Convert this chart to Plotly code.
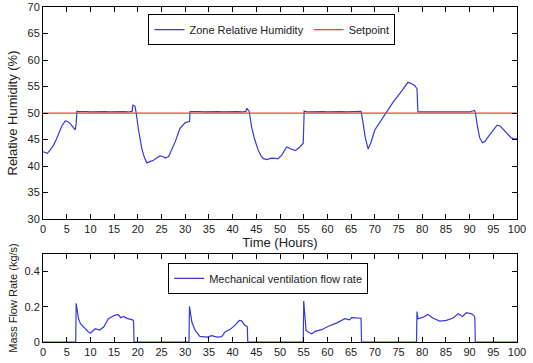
import plotly.graph_objects as go

# Zone relative humidity (%) vs time (hours)
rh_time = [0, 0.5, 0.9, 1.5, 2.2, 2.8, 3.3, 4.0, 4.7, 5.2, 5.75, 6.3, 6.8, 7.0, 7.15, 7.4,
           8, 9, 10, 11, 12, 13, 14, 15, 16, 17, 18, 18.8, 18.96, 19.4, 19.66, 20.15,
           20.85, 21.4, 21.9, 22.5, 23.3, 24.0, 24.7, 25.3, 25.8, 26.5, 27.2, 27.9, 28.9,
           29.5, 30.0, 30.9, 31.05, 31.3,
           32, 33, 34, 35, 36, 37, 38, 39, 40, 41, 42, 42.8, 43.0, 43.5, 44.0, 44.7, 45.4,
           46.0, 46.5, 47.2, 48.2, 49.6, 50.4, 51.4, 52.1, 53.2, 54.2, 54.9, 55.1, 55.3,
           56, 57, 58, 59, 60, 61, 62, 63, 64, 65, 66, 67.1, 67.55, 68.0, 68.6, 69.2, 70.0,
           71.2, 72.5, 73.9, 75.3, 76.2, 77.0, 77.6, 78.4, 78.9, 79.1, 79.3,
           80, 81, 82, 83, 84, 85, 86, 87, 88, 89, 90, 91.0, 91.2, 91.6, 92.1, 92.7, 93.2,
           93.9, 95.0, 95.8, 96.5, 97.2, 97.8, 98.8, 99.5, 100]
rh_value = [42.7, 42.5, 42.4, 43.0, 43.9, 45.0, 46.1, 47.6, 48.5, 48.4, 48.0, 47.3, 46.8, 48.0, 50.4, 50.25,
            50.2, 50.25, 50.2, 50.25, 50.2, 50.25, 50.2, 50.25, 50.2, 50.25, 50.2, 50.3, 51.5, 51.3, 50.0, 46.8,
            43.3, 41.6, 40.6, 40.8, 41.1, 41.5, 41.9, 41.8, 41.5, 41.8, 43.1, 44.6, 47.1,
            47.8, 48.2, 48.4, 50.3, 50.25,
            50.2, 50.25, 50.2, 50.25, 50.2, 50.25, 50.2, 50.25, 50.2, 50.25, 50.2, 50.3, 50.9, 50.3, 47.4, 44.9, 43.0,
            41.9, 41.4, 41.2, 41.5, 41.4, 42.1, 43.6, 43.3, 42.9, 43.6, 44.3, 50.4, 50.3,
            50.2, 50.25, 50.2, 50.25, 50.2, 50.25, 50.2, 50.25, 50.2, 50.25, 50.2, 50.3, 48.0, 45.3, 43.2, 44.5, 46.8,
            48.5, 50.1, 52.1, 53.7, 54.9, 55.8, 55.6, 55.2, 54.6, 50.2, 50.2,
            50.2, 50.25, 50.2, 50.25, 50.2, 50.25, 50.2, 50.25, 50.2, 50.25, 50.2, 50.5, 50.2, 47.8, 45.4, 44.4, 44.6,
            45.5, 46.9, 47.7, 47.5, 46.8, 46.1, 45.3, 45.1, 45.2]

setpoint_time = [0, 100]
setpoint_value = [50, 50]

# Mechanical ventilation mass flow rate (kg/s)
flow_time = [0, 6.9, 7.0, 7.2, 7.5, 7.9, 8.7, 9.6, 10.0, 11.0, 11.9, 12.8, 13.8, 15.2, 15.9, 16.4,
             17.0, 17.7, 18.9, 19.1, 19.2,
             30.8, 30.9, 31.1, 31.4, 32.1, 33.1, 34.6, 35.6, 36.7, 37.7, 38.4, 39.5, 40.5, 41.4,
             41.9, 42.6, 43.0, 43.1, 43.2,
             54.9, 55.0, 55.2, 55.5, 56.3, 56.7, 57.4, 58.8, 60.2, 61.9, 63.7, 64.7, 65.1, 66.9,
             67.1, 67.2,
             78.8, 78.9, 79.1, 80.2, 81.2, 82.3, 83.7, 85.1, 86.5, 87.6, 88.5, 89.3, 90.4, 90.9,
             91.1, 91.2, 100]
flow_value = [0, 0, 0.22, 0.18, 0.132, 0.104, 0.08, 0.057, 0.05, 0.075, 0.068, 0.085, 0.132, 0.153, 0.155, 0.138,
              0.145, 0.134, 0.126, 0.12, 0,
              0, 0.203, 0.16, 0.113, 0.066, 0.032, 0.028, 0.036, 0.028, 0.03, 0.057, 0.072, 0.094, 0.122,
              0.12, 0.094, 0.09, 0.085, 0,
              0, 0.232, 0.15, 0.066, 0.051, 0.047, 0.06, 0.07, 0.089, 0.107, 0.132, 0.126, 0.138, 0.138,
              0.135, 0,
              0, 0.173, 0.132, 0.141, 0.156, 0.135, 0.119, 0.123, 0.136, 0.160, 0.145, 0.166, 0.16, 0.15,
              0.14, 0, 0]

x_ticks = list(range(0, 101, 5))
rh_ticks = list(range(30, 71, 5))
flow_ticks = [0, 0.2, 0.4]
flow_tick_labels = ["0", "0.2", "0.4"]

BLUE = "#3838dc"
RED = "#ff3a3a"
FONT = "Liberation Sans, Arial, sans-serif"

fig = go.Figure()
fig.add_trace(go.Scatter(x=rh_time, y=rh_value, mode="lines", name="Zone Relative Humidity",
                         line=dict(color=BLUE, width=1.2), xaxis="x", yaxis="y", legend="legend"))
fig.add_trace(go.Scatter(x=setpoint_time, y=setpoint_value, mode="lines", name="Setpoint",
                         line=dict(color=RED, width=1.2), xaxis="x", yaxis="y", legend="legend"))
fig.add_trace(go.Scatter(x=flow_time, y=flow_value, mode="lines", name="Mechanical ventilation flow rate",
                         line=dict(color=BLUE, width=1.2), xaxis="x2", yaxis="y2", legend="legend2"))

axis_common = dict(showline=True, linecolor="black", linewidth=1, mirror="ticks", ticks="inside",
                   ticklen=5, tickcolor="black", showgrid=False, zeroline=False, automargin=False,
                   tickfont=dict(family=FONT, size=11, color="#222"))

fig.update_layout(
    width=533, height=363,
    margin=dict(l=43, r=16, t=7, b=21),
    paper_bgcolor="white", plot_bgcolor="white",
    font=dict(family=FONT, color="#222"),
    xaxis=dict(domain=[0, 1], anchor="y", range=[0, 100], tickvals=x_ticks,
               title=dict(text="Time (Hours)", font=dict(size=13), standoff=2), **axis_common),
    yaxis=dict(domain=[0.367, 1], anchor="x", range=[30, 70], tickvals=rh_ticks,
               title=dict(text="Relative Humidity (%)", font=dict(size=13), standoff=6), **axis_common),
    xaxis2=dict(domain=[0, 1], anchor="y2", range=[0, 100], tickvals=x_ticks, **axis_common),
    yaxis2=dict(domain=[0, 0.263], anchor="x2", range=[0, 0.5], tickvals=flow_ticks,
                ticktext=flow_tick_labels,
                title=dict(text="Mass Flow Rate (kg/s)", font=dict(size=11), standoff=4), **axis_common),
    legend=dict(orientation="h", x=0.483, xanchor="center", y=0.979, yanchor="top",
                bordercolor="black", borderwidth=1, bgcolor="white",
                font=dict(family=FONT, size=11, color="#222"), itemwidth=30,
                tracegroupgap=0),
    legend2=dict(orientation="h", x=0.475, xanchor="center", y=0.236, yanchor="top",
                 bordercolor="black", borderwidth=1, bgcolor="white",
                 font=dict(family=FONT, size=11, color="#222"), itemwidth=30),
)

fig.write_html("out.html")
